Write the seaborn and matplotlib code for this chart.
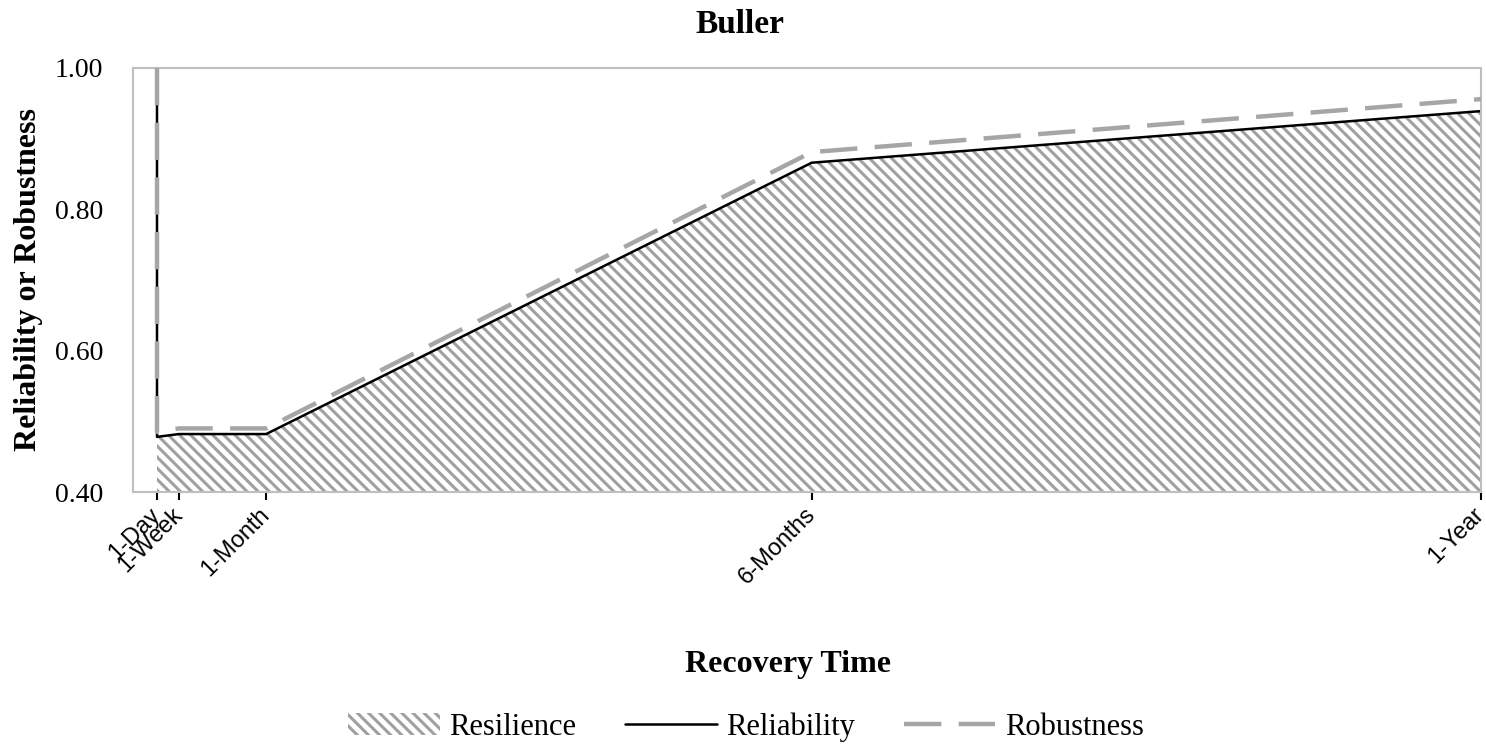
import pandas as pd
import seaborn as sns
import matplotlib.pyplot as plt
from matplotlib.patches import Patch
from matplotlib.lines import Line2D
from matplotlib.transforms import ScaledTranslation

# recovery time in days (1-Day appears twice: the drop from 1.00)
days = [1, 1, 7, 31, 181, 365]
reliability = [1.00, 0.478, 0.482, 0.482, 0.866, 0.939]
robustness = [1.00, 0.485, 0.490, 0.490, 0.881, 0.956]

tick_days = [1, 7, 31, 181, 365]
tick_labels = ['1-Day', '1-Week', '1-Month', '6-Months', '1-Year']
y_ticks = [0.40, 0.60, 0.80, 1.00]

sns.set_style('white')
plt.rcParams['font.family'] = ['Liberation Serif', 'DejaVu Serif']
plt.rcParams['hatch.linewidth'] = 2.2
plt.rcParams['text.color'] = 'black'
plt.rcParams['axes.labelcolor'] = 'black'
plt.rcParams['xtick.color'] = 'black'
plt.rcParams['ytick.color'] = 'black'

df = pd.DataFrame({'days': days, 'Reliability': reliability, 'Robustness': robustness})

hatch_col = '#a0a0a0'
robust_col = '#a6a6a6'
robust_dash = (0, (8.4, 3.9))

fig = plt.figure(figsize=(14.86, 7.44), dpi=100)
ax = fig.add_axes([133 / 1486, 1 - 492 / 744, 1348 / 1486, 424 / 744])

# resilience = hatched area under reliability
ax.fill_between(df['days'][1:], df['Reliability'][1:], 0.4, facecolor='white',
                edgecolor=hatch_col, linewidth=0, hatch='\\\\\\', zorder=1)
sns.lineplot(data=df, x='days', y='Reliability', estimator=None, sort=False,
             color='black', linewidth=1.8, ax=ax, zorder=2)
sns.lineplot(data=df, x='days', y='Robustness', estimator=None, sort=False,
             color=robust_col, linewidth=3.2, linestyle=robust_dash, ax=ax, zorder=3)

ax.set_xlim(-5.6, 365)
ax.set_ylim(0.4, 1.0)
ax.set_xticks(tick_days)
ax.set_xticklabels(tick_labels, rotation=45, ha='right', va='center',
                   rotation_mode='anchor', fontfamily='Liberation Sans', fontsize=17)
shift = ScaledTranslation(-5 / 100, 0, fig.dpi_scale_trans)
for lab in ax.get_xticklabels():
    lab.set_transform(lab.get_transform() + shift)
ax.set_yticks(y_ticks)
ax.set_yticklabels([f'{v:.2f}' for v in y_ticks], fontsize=20)
ax.tick_params(axis='y', left=False, pad=18)
ax.tick_params(axis='x', bottom=True, length=6, width=1.5, color='black', pad=8)

for s in ax.spines.values():
    s.set_color('#bfbfbf')
    s.set_linewidth(1.5)

ax.set_xlabel('Recovery Time', fontsize=23, fontweight='bold')
ax.xaxis.set_label_coords(0.486, -0.373)
ax.set_ylabel('Reliability or Robustness', fontsize=23, fontweight='bold')
ax.yaxis.set_label_coords(-0.0668, 0.5)

fig.text(0.498, 1 - 33 / 744, 'Buller', ha='center', va='baseline',
         fontsize=24, fontweight='bold')

handles = [
    Patch(facecolor='white', edgecolor=hatch_col, linewidth=0, hatch='\\\\\\'),
    Line2D([], [], color='black', linewidth=1.8),
    Line2D([], [], color=robust_col, linewidth=3.2, linestyle=robust_dash),
]
fig.legend(handles, ['Resilience', 'Reliability', 'Robustness'], loc='center',
           bbox_to_anchor=(0.502, 1 - 727 / 744), ncol=3, frameon=False,
           fontsize=22, handlelength=3.0, handletextpad=0.3, columnspacing=1.6)

fig.savefig('out.png', dpi=100)
